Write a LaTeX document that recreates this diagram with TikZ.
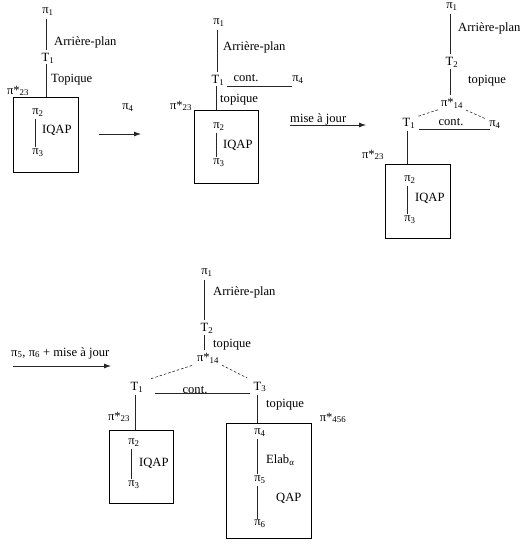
\documentclass[tikz,border=0pt]{standalone}
\usepackage{fontspec}
\setmainfont{Liberation Serif}
\usetikzlibrary{arrows.meta}

\tikzset{
    lbl/.style={inner sep=1pt, font=\fontsize{12.6}{14}\selectfont},
    rel/.style={line width=0.8pt, draw=black!85},
    drel/.style={rel, dashed, dash pattern=on 2.5pt off 2pt, line width=0.6pt},
    sdrt/.style={draw, line width=0.8pt, inner sep=0pt},
    arr/.style={rel, -{Latex[length=7pt,width=5pt]}},
}
\newcommand{\pin}[1]{π\textsubscript{#1}}
\newcommand{\pist}[1]{π*\textsubscript{#1}}

\begin{document}
\begin{tikzpicture}[x=1pt, y=-1pt]
    \useasboundingbox (0,0) rectangle (527,544);
    % first panel
    \node [lbl] (a-p1) at (48,12) {\pin{1}};
    \node [lbl] (a-t1) at (48,58) {T\textsubscript{1}};
    \node [lbl, anchor=west] (a-ap) at (53,42) {Arrière-plan};
    \node [lbl, anchor=west] (a-top) at (50,80) {Topique};
    \node [lbl] (a-s23) at (18,91) {\pist{23}};
    \node [sdrt, minimum width=65pt, minimum height=75pt] (a-box) at (45.5,134.5) {};
    \node [lbl] (a-p2) at (38,113) {\pin{2}};
    \node [lbl, anchor=west] (a-iqap) at (41,130) {IQAP};
    \node [lbl] (a-p3) at (38,153) {\pin{3}};
    \node [lbl] (a-p4) at (128,108) {\pin{4}};
    \coordinate (a-as) at (99,134);
    \coordinate (a-ae) at (141,134);
    \draw [rel, shorten <=2pt, shorten >=2pt] ([xshift=-2pt]a-p1.south) -- ([xshift=-2pt]a-p1.south |- a-t1.north);
    \draw [rel] ([xshift=-2pt]a-t1.south) -- ([xshift=-2pt]a-t1.south |- a-box.north);
    \draw [rel, shorten <=1pt, shorten >=1pt] ([xshift=-3pt]a-p2.south) -- ([xshift=-3pt]a-p2.south |- a-p3.north);
    \draw [arr] (a-as) -- (a-ae);

    % second panel
    \node [lbl] (b-p1) at (219,23) {\pin{1}};
    \node [lbl] (b-t1) at (218,80) {T\textsubscript{1}};
    \node [lbl, anchor=west] (b-ap) at (222,47) {Arrière-plan};
    \node [lbl] (b-cont) at (246,78) {cont.};
    \node [lbl] (b-p4) at (298,80) {\pin{4}};
    \node [lbl, anchor=west] (b-top) at (219,100) {topique};
    \node [lbl] (b-s23) at (181,106) {\pist{23}};
    \node [sdrt, minimum width=64pt, minimum height=73pt] (b-box) at (226,146.5) {};
    \node [lbl] (b-p2) at (219,127) {\pin{2}};
    \node [lbl, anchor=west] (b-iqap) at (222,145) {IQAP};
    \node [lbl] (b-p3) at (219,163) {\pin{3}};
    \node [lbl, anchor=west] (b-maj) at (289,119) {mise à jour};
    \coordinate (b-as) at (290,125);
    \coordinate (b-ae) at (366,125);
    \draw [rel, shorten <=2pt, shorten >=2pt] ([xshift=-2pt]b-p1.south) -- ([xshift=-2pt]b-p1.south |- b-t1.north);
    \draw [rel] ([xshift=-2pt]b-t1.south) -- ([xshift=-2pt]b-t1.south |- b-box.north);
    \draw [rel] ([xshift=1pt]b-t1.south east) -- ([xshift=1pt]b-t1.south east -| b-p4.west);
    \draw [rel, shorten <=1pt, shorten >=1pt] ([xshift=-3pt]b-p2.south) -- ([xshift=-3pt]b-p2.south |- b-p3.north);
    \draw [arr] (b-as) -- (b-ae);

    % third panel
    \node [lbl] (c-p1) at (452,7) {\pin{1}};
    \node [lbl, anchor=west] (c-ap) at (457,28) {Arrière-plan};
    \node [lbl] (c-t2) at (452,62) {T\textsubscript{2}};
    \node [lbl, anchor=west] (c-top) at (467,81) {topique};
    \node [lbl] (c-s14) at (452,103) {\pist{14}};
    \node [lbl] (c-t1) at (409,123) {T\textsubscript{1}};
    \node [lbl] (c-cont) at (451,122) {cont.};
    \node [lbl] (c-p4) at (495,125) {\pin{4}};
    \node [lbl] (c-s23) at (373,155) {\pist{23}};
    \node [sdrt, minimum width=65pt, minimum height=74pt] (c-box) at (417.5,201) {};
    \node [lbl] (c-p2) at (410,180) {\pin{2}};
    \node [lbl, anchor=west] (c-iqap) at (414,198) {IQAP};
    \node [lbl] (c-p3) at (410,220) {\pin{3}};
    \draw [rel, shorten <=2pt, shorten >=2pt] ([xshift=-2pt]c-p1.south) -- ([xshift=-2pt]c-p1.south |- c-t2.north);
    \draw [rel, shorten <=1pt, shorten >=2pt] ([xshift=-2pt]c-t2.south) -- ([xshift=-2pt]c-t2.south |- c-s14.north);
    \draw [drel, shorten <=2pt] (c-s14.south west) -- (c-t1.north east);
    \draw [drel, shorten <=2pt, shorten >=2pt] (c-s14.south east) -- (c-p4.north west);
    \draw [rel] ([xshift=2pt]c-t1.south east) -- ([xshift=2pt]c-t1.south east -| c-p4.west);
    \draw [rel, shorten <=2pt] ([xshift=-2pt]c-t1.south) -- ([xshift=-2pt]c-t1.south |- c-box.north);
    \draw [rel, shorten <=1pt, shorten >=1pt] ([xshift=-3pt]c-p2.south) -- ([xshift=-3pt]c-p2.south |- c-p3.north);

    % fourth panel
    \node [lbl, anchor=west] (d-maj) at (10,353) {\pin{5}, \pin{6} + mise à jour};
    \coordinate (d-as) at (13,366);
    \coordinate (d-ae) at (111,366);
    \node [lbl] (d-p1) at (207,273) {\pin{1}};
    \node [lbl, anchor=west] (d-ap) at (212,292) {Arrière-plan};
    \node [lbl] (d-t2) at (207,328) {T\textsubscript{2}};
    \node [lbl, anchor=west] (d-top) at (212,345) {topique};
    \node [lbl] (d-s14) at (208,358) {\pist{14}};
    \node [lbl] (d-t1) at (137,387) {T\textsubscript{1}};
    \node [lbl] (d-cont) at (195,390) {cont.};
    \node [lbl] (d-t3) at (260,387) {T\textsubscript{3}};
    \node [lbl, anchor=west] (d-top3) at (265,405) {topique};
    \node [lbl] (d-s23) at (119,417) {\pist{23}};
    \node [sdrt, minimum width=64pt, minimum height=73pt] (d-box1) at (141,466.5) {};
    \node [lbl] (d-p2) at (134,443) {\pin{2}};
    \node [lbl, anchor=west] (d-iqap) at (138,463) {IQAP};
    \node [lbl] (d-p3) at (134,485) {\pin{3}};
    \node [lbl] (d-s456) at (333,418) {\pist{456}};
    \node [sdrt, minimum width=85pt, minimum height=115pt] (d-box2) at (268.5,480.5) {};
    \node [lbl] (d-p4) at (260,433) {\pin{4}};
    \node [lbl, anchor=west] (d-elab) at (265,460) {Elab\textsubscript{α}};
    \node [lbl] (d-p5) at (260,480) {\pin{5}};
    \node [lbl, anchor=west] (d-qap) at (275,498) {QAP};
    \node [lbl] (d-p6) at (260,524) {\pin{6}};
    \draw [arr] (d-as) -- (d-ae);
    \draw [rel, shorten <=2pt, shorten >=2pt] ([xshift=-3pt]d-p1.south) -- ([xshift=-3pt]d-p1.south |- d-t2.north);
    \draw [rel, shorten <=1pt, shorten >=2pt] ([xshift=-3pt]d-t2.south) -- ([xshift=-3pt]d-t2.south |- d-s14.north);
    \draw [drel, shorten <=4pt, shorten >=6pt] (d-s14.south west) -- (d-t1.north east);
    \draw [drel, shorten <=2pt, shorten >=6pt] (d-s14.south east) -- (d-t3.north west);
    \draw [rel, shorten <=10pt, shorten >=2pt] (d-t1.south east) -- (d-t1.south east -| d-t3.west);
    \draw [rel, shorten <=2pt] ([xshift=-2pt]d-t1.south) -- ([xshift=-2pt]d-t1.south |- d-box1.north);
    \draw [rel, shorten <=2pt] ([xshift=-3pt]d-t3.south) -- ([xshift=-3pt]d-t3.south |- d-box2.north);
    \draw [rel, shorten <=1pt, shorten >=1pt] ([xshift=-3pt]d-p2.south) -- ([xshift=-3pt]d-p2.south |- d-p3.north);
    \draw [rel, shorten <=1pt, shorten >=1pt] ([xshift=-3pt]d-p4.south) -- ([xshift=-3pt]d-p4.south |- d-p5.north);
    \draw [rel, shorten <=1pt, shorten >=0pt] ([xshift=-3pt]d-p5.south) -- ([xshift=-3pt]d-p5.south |- d-p6.north);
\end{tikzpicture}
\end{document}
